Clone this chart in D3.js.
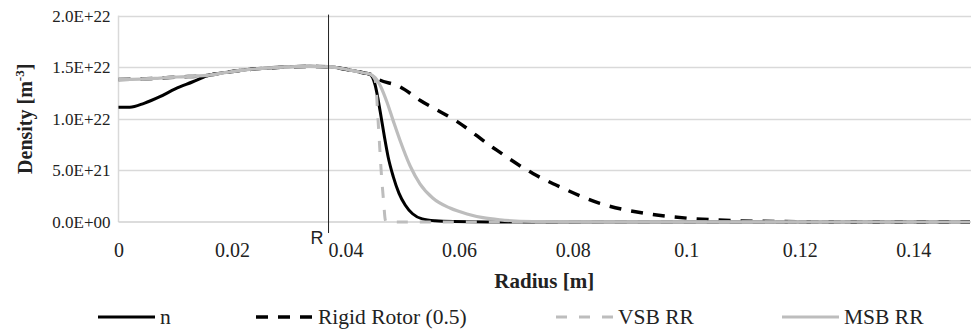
<!DOCTYPE html>
<html>
<head>
<meta charset="utf-8">
<script src="https://cdn.jsdelivr.net/npm/d3@7"></script>
<style>
  html, body { margin: 0; padding: 0; background: #fff; }
  svg { display: block; }
</style>
</head>
<body>
<svg id="chart" width="973" height="331"></svg>
<script>
// ---------------- Data ----------------
const seriesNames = ["n", "Rigid Rotor (0.5)", "VSB RR", "MSB RR"];

// radius [m] / density [m^-3]
const radiusN   = [0, 0.002, 0.0045, 0.0073, 0.010, 0.0131, 0.0156, 0.019, 0.022, 0.028, 0.0337, 0.0373, 0.040, 0.0431, 0.0443, 0.0452, 0.0461, 0.0468, 0.0475, 0.0484, 0.0494, 0.0505, 0.0518, 0.0535, 0.0558, 0.0590, 0.065, 0.15];
const densityN  = [1.111e22, 1.112e22, 1.15e22, 1.214e22, 1.29e22, 1.359e22, 1.417e22, 1.45e22, 1.472e22, 1.498e22, 1.508e22, 1.504e22, 1.48e22, 1.446e22, 1.43e22, 1.33e22, 1.07e22, 0.84e22, 0.63e22, 0.44e22, 0.28e22, 0.165e22, 0.08e22, 0.03e22, 0.011e22, 0.004e22, 0.001e22, 0];

const radiusRR  = [0, 0.004, 0.0073, 0.0103, 0.0156, 0.019, 0.022, 0.028, 0.0337, 0.0373, 0.040, 0.0431, 0.0443, 0.0455, 0.0496, 0.0531, 0.0596, 0.066, 0.073, 0.0778, 0.0848, 0.0924, 0.1002, 0.1083, 0.116, 0.13, 0.15];
const densityRR = [1.382e22, 1.385e22, 1.395e22, 1.405e22, 1.42e22, 1.45e22, 1.472e22, 1.498e22, 1.508e22, 1.504e22, 1.48e22, 1.446e22, 1.433e22, 1.39e22, 1.31e22, 1.18e22, 0.975e22, 0.72e22, 0.47e22, 0.34e22, 0.18e22, 0.087e22, 0.037e22, 0.013e22, 0.005e22, 0.001e22, 0];

const radiusVSB  = [0, 0.004, 0.0073, 0.0103, 0.0156, 0.019, 0.022, 0.028, 0.0337, 0.0373, 0.040, 0.0431, 0.0443, 0.0452, 0.0458, 0.0463, 0.0467, 0.0470, 0.0472, 0.15];
const densityVSB = [1.382e22, 1.385e22, 1.395e22, 1.405e22, 1.42e22, 1.45e22, 1.472e22, 1.498e22, 1.508e22, 1.504e22, 1.48e22, 1.446e22, 1.433e22, 1.38e22, 0.92e22, 0.47e22, 0.2e22, 0.02e22, 0, 0];

const radiusMSB  = [0, 0.004, 0.0073, 0.0103, 0.0156, 0.019, 0.022, 0.028, 0.0337, 0.0373, 0.040, 0.0431, 0.0443, 0.0452, 0.0462, 0.0473, 0.0484, 0.0496, 0.0514, 0.0531, 0.0554, 0.0584, 0.0614, 0.0642, 0.0672, 0.073, 0.085, 0.15];
const densityMSB = [1.382e22, 1.385e22, 1.395e22, 1.405e22, 1.42e22, 1.45e22, 1.472e22, 1.498e22, 1.508e22, 1.504e22, 1.48e22, 1.446e22, 1.433e22, 1.40e22, 1.31e22, 1.16e22, 0.98e22, 0.79e22, 0.54e22, 0.37e22, 0.23e22, 0.135e22, 0.078e22, 0.042e22, 0.021e22, 0.005e22, 0.001e22, 0];

const xTicks = [0, 0.02, 0.04, 0.06, 0.08, 0.1, 0.12, 0.14];
const xTickLabels = ["0", "0.02", "0.04", "0.06", "0.08", "0.1", "0.12", "0.14"];
const yTicks = [0, 5e21, 1e22, 1.5e22, 2e22];
const yTickLabels = ["0.0E+00", "5.0E+21", "1.0E+22", "1.5E+22", "2.0E+22"];
const markerRadius = 0.037;  // "R" marker
const markerLabel = "R";

// ---------------- Layout ----------------
const SERIF = '"Liberation Serif", "Times New Roman", serif';
const SANS = '"Liberation Sans", Arial, sans-serif';
const svg = d3.select("#chart");
const plot = { left: 118.5, right: 970, top: 15.6, bottom: 222 };
const x = d3.scaleLinear().domain([0, 0.15]).range([plot.left, plot.right]);
const y = d3.scaleLinear().domain([0, 2e22]).range([plot.bottom, plot.top]);

// gridlines
svg.append("g")
  .selectAll("line")
  .data(yTicks.slice(1))
  .join("line")
  .attr("x1", plot.left).attr("x2", plot.right + 1)
  .attr("y1", d => Math.round(y(d)) + 0.5).attr("y2", d => Math.round(y(d)) + 0.5)
  .attr("stroke", "#d9d9d9").attr("stroke-width", 1.3);

// left axis line
svg.append("line")
  .attr("x1", plot.left).attr("x2", plot.left)
  .attr("y1", plot.top).attr("y2", plot.bottom)
  .attr("stroke", "#d9d9d9").attr("stroke-width", 1.5);

// bottom axis line
svg.append("line")
  .attr("x1", plot.left).attr("x2", plot.right + 1)
  .attr("y1", plot.bottom).attr("y2", plot.bottom)
  .attr("stroke", "#d0d0d0").attr("stroke-width", 1.5);

// y axis labels
const yAxis = d3.axisLeft(y).tickValues(yTicks).tickSize(0).tickPadding(8)
  .tickFormat((d, i) => yTickLabels[i]);
const gy = svg.append("g").attr("transform", `translate(${plot.left},0)`).call(yAxis);
gy.select(".domain").remove();
gy.selectAll("text").style("font-family", SERIF).style("font-size", "17px").attr("fill", "#222");

// x axis labels
const xAxis = d3.axisBottom(x).tickValues(xTicks).tickSize(0).tickPadding(0)
  .tickFormat((d, i) => xTickLabels[i]);
const gx = svg.append("g").attr("transform", `translate(0,${plot.bottom})`).call(xAxis);
gx.select(".domain").remove();
gx.selectAll("text").style("font-family", SERIF).style("font-size", "20px").attr("fill", "#222")
  .attr("dy", null).attr("y", 35);

// series
const line = d3.line().x(d => x(d[0])).y(d => y(d[1])).curve(d3.curveMonotoneX);
const zip = (a, b) => a.map((v, i) => [v, b[i]]);
const styles = [
  { color: "#000000", width: 3, dash: null },
  { color: "#000000", width: 3.5, dash: "12,10" },
  { color: "#bdbdbd", width: 3, dash: "11,12" },
  { color: "#bdbdbd", width: 3.2, dash: null }
];
const seriesData = [
  zip(radiusN, densityN),
  zip(radiusRR, densityRR),
  zip(radiusVSB, densityVSB),
  zip(radiusMSB, densityMSB)
];
seriesData.forEach((pts, i) => {
  svg.append("path")
    .attr("d", line(pts))
    .attr("fill", "none")
    .attr("stroke", styles[i].color)
    .attr("stroke-width", styles[i].width)
    .attr("stroke-dasharray", styles[i].dash)
    .attr("stroke-linejoin", "round");
});

// R marker
svg.append("line")
  .attr("x1", x(markerRadius)).attr("x2", x(markerRadius))
  .attr("y1", plot.top - 1).attr("y2", 233)
  .attr("stroke", "#222").attr("stroke-width", 1);
svg.append("text")
  .attr("x", x(markerRadius) - 5).attr("y", 244)
  .attr("text-anchor", "end")
  .style("font-family", SANS).style("font-size", "18px").attr("fill", "#222")
  .text(markerLabel);

// axis titles
svg.append("text")
  .attr("x", (plot.left + plot.right) / 2).attr("y", 288)
  .attr("text-anchor", "middle")
  .style("font-family", SERIF).style("font-weight", "bold").style("font-size", "21px").attr("fill", "#222")
  .text("Radius [m]");

const yt = svg.append("text")
  .attr("transform", `translate(32,${(plot.top + plot.bottom) / 2}) rotate(-90)`)
  .attr("text-anchor", "middle")
  .style("font-family", SERIF).style("font-weight", "bold").style("font-size", "20px").attr("fill", "#222");
yt.append("tspan").text("Density [m");
yt.append("tspan").style("font-size", "13px").attr("dy", -8).text("-3");
yt.append("tspan").attr("dy", 8).text("]");

// legend
const legendX = [98, 256, 556, 782];
const legendY = 317;
const lg = svg.append("g");
seriesNames.forEach((name, i) => {
  lg.append("line")
    .attr("x1", legendX[i]).attr("x2", legendX[i] + 57)
    .attr("y1", legendY).attr("y2", legendY)
    .attr("stroke", styles[i].color)
    .attr("stroke-width", styles[i].width)
    .attr("stroke-dasharray", styles[i].dash);
  lg.append("text")
    .attr("x", legendX[i] + 62).attr("y", legendY + 7)
    .style("font-family", SERIF).style("font-size", "21.5px").attr("fill", "#222")
    .text(name);
});
</script>
</body>
</html>
